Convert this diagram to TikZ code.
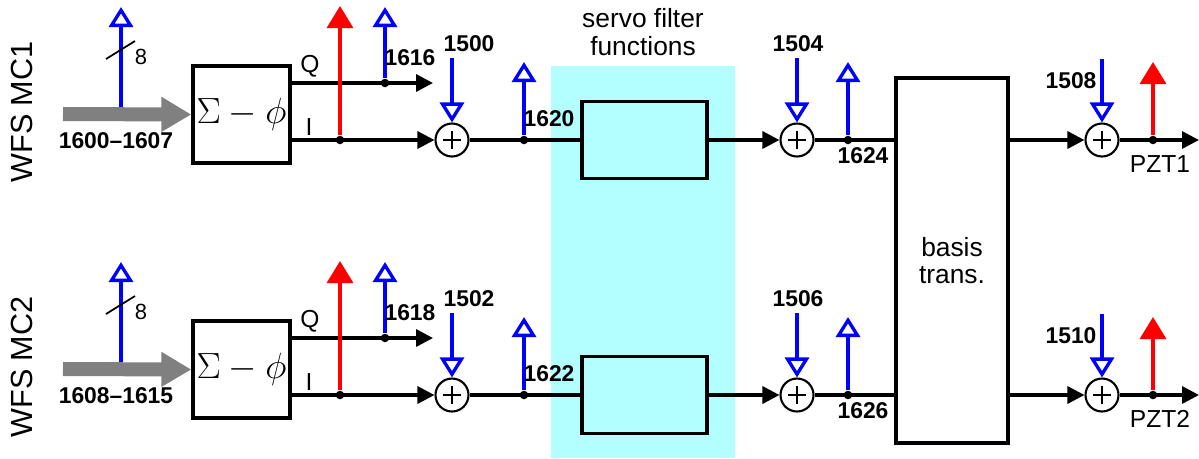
\documentclass[tikz,border=0pt]{standalone}
\usepackage{fontspec}
\setmainfont{Liberation Sans}
\usepackage{tikz}
\usetikzlibrary{positioning,arrows.meta,calc}
\definecolor{servobg}{RGB}{179,255,255}
\tikzset{
block/.style={
draw,
line width=1.9pt,
inner sep=0pt,
align=center,
font=\fontsize{15}{15.5}\selectfont
},
sumnode/.style={
circle,
draw,
line width=1.2pt,
minimum size=6.6mm,
inner sep=0pt,
path picture={
\draw[line width=1.2pt]
([xshift=-1.8mm]path picture bounding box.center)--([xshift=1.8mm]path picture bounding box.center)
([yshift=-1.8mm]path picture bounding box.center)--([yshift=1.8mm]path picture bounding box.center);
}
},
junction/.style={
circle,
fill,
inner sep=0pt,
minimum size=1.7mm
},
num/.style={
font=\fontsize{13}{15}\bfseries\selectfont,
inner sep=1pt
},
lbl/.style={
font=\fontsize{14}{16}\selectfont,
inner sep=1pt
},
wire/.style={line width=1.9pt},
sig/.style={
line width=1.9pt,
-{Triangle[length=3.4mm,width=3.4mm]}
},
tap/.style={
blue,
line width=1.9pt,
-{Triangle[open,length=4mm,width=4.8mm]}
},
probe/.style={
red,
line width=1.9pt,
-{Triangle[length=4.4mm,width=5.2mm]}
},
bus/.style={
gray,
line width=2.8mm,
-{Triangle[length=6mm,width=6.6mm]}
}
}

\begin{document}
\begin{tikzpicture}[x=0.02cm,y=-0.02cm]
\useasboundingbox (0,0) rectangle (1199,458);
\fill[servobg] (551,66) rectangle (735,458);
\node[block,draw=none,align=center] (sflbl) at (643,32) {servo filter\\functions};
\node[block,minimum width=2.24cm,minimum height=7.3cm] (bt) at (952,260.5) {basis\\trans.};

\foreach \r/\dy/\mc/\rng/\qn/\na/\nb/\nc/\nd/\ne/\pz in {
1/0/MC1/1600\textendash1607/1616/1500/1620/1504/1624/1508/PZT1,
2/255/MC2/1608\textendash1615/1618/1502/1622/1506/1626/1510/PZT2}{
\begin{scope}[shift={(0,\dy)}]
% input bus and sigma-phi converter
\node[rotate=90,font=\fontsize{17.4}{20}\selectfont] (wfs\r) at (22,112) {WFS \mc};
\node[block,minimum width=1.94cm,minimum height=1.94cm,font=\fontsize{21}{24}\selectfont] (sd\r) at (241.5,114.5) {$\Sigma-\phi$};
\coordinate (in\r) at (63,114);
\draw[bus] (in\r) -- (sd\r.west);
\node[num] (rng\r) at (116,141) {\rng};
\coordinate (tap\r) at (121,107);
\coordinate (tapt\r) at (121,7);
\draw[tap] (tap\r) -- (tapt\r);
\coordinate (sl\r) at (121,50);
\draw[line width=1pt] ([shift={(-15,9)}]sl\r) -- ([shift={(14,-9)}]sl\r);
\node[lbl,font=\fontsize{12.5}{14}\selectfont] (w\r) at (141,57) {8};

% Q and I outputs
\coordinate (qt\r) at (433,83);
\draw[sig] (sd\r.east |- qt\r) -- (qt\r);
\node[lbl] (q\r) at (310,66) {Q};
\node[lbl] (i\r) at (309,127) {I};
\node[sumnode] (sa\r) at (452,140) {};
\draw[sig] (sd\r.east |- sa\r) -- (sa\r);
\node[junction] (pa\r) at (340,140) {};
\coordinate (pat\r) at (340,6);
\draw[probe] (pa\r) -- (pat\r);
\node[junction] (qa\r) at (385,83) {};
\coordinate (qat\r) at (385,7);
\draw[tap] (qa\r) -- (qat\r);
\node[num] (nq\r) at (410,58) {\qn};
\coordinate (sat\r) at (452,58);
\draw[tap] (sat\r) -- (sa\r);
\node[num] (na\r) at (469,44) {\na};

% servo filter
\node[block,minimum width=2.5cm,minimum height=1.54cm] (sf\r) at (644.5,140) {};
\draw[wire] (sa\r) -- (sf\r);
\node[junction] (pb\r) at (524,140) {};
\coordinate (pbt\r) at (524,62);
\draw[tap] (pb\r) -- (pbt\r);
\node[num] (nb\r) at (549,119) {\nb};
\node[sumnode] (sb\r) at (797,140) {};
\draw[sig] (sf\r) -- (sb\r);
\coordinate (sbt\r) at (797,58);
\draw[tap] (sbt\r) -- (sb\r);
\node[num] (nc\r) at (798,44) {\nc};
\draw[wire] (sb\r) -- (sb\r -| bt.west);
\node[junction] (pc\r) at (848,140) {};
\coordinate (pct\r) at (848,62);
\draw[tap] (pc\r) -- (pct\r);
\node[num] (nd\r) at (863,156) {\nd};

% PZT output
\node[sumnode] (sc\r) at (1102,140) {};
\draw[sig] (bt.east |- sc\r) -- (sc\r);
\coordinate (sct\r) at (1102,59);
\draw[tap] (sct\r) -- (sc\r);
\node[num] (ne\r) at (1071,81) {\ne};
\coordinate (out\r) at (1199,140);
\draw[sig] (sc\r) -- (out\r);
\node[junction] (pd\r) at (1153,140) {};
\coordinate (pdt\r) at (1153,62);
\draw[probe] (pd\r) -- (pdt\r);
\node[lbl] (pz\r) at (1160,164) {\pz};
\end{scope}
}
\end{tikzpicture}
\end{document}
